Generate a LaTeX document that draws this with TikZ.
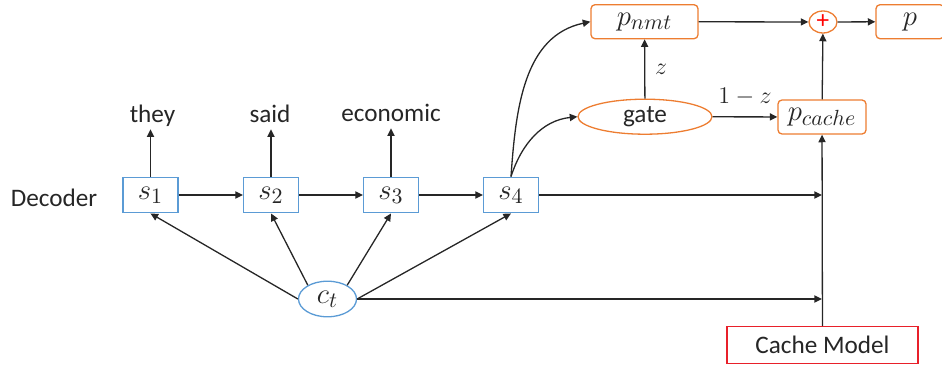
\documentclass[tikz,border=0pt]{standalone}
\usepackage[no-math]{fontspec}
\setmainfont{Carlito}
\usetikzlibrary{arrows.meta,shapes.geometric}
\definecolor{boxblue}{HTML}{5B9BD5}
\definecolor{boxorange}{HTML}{ED7D31}
\definecolor{boxred}{HTML}{E8202A}
\definecolor{linegray}{HTML}{262626}
\begin{document}
\begin{tikzpicture}[x=0.5pt,y=-0.5pt,
  font=\fontsize{12.6}{15}\selectfont, text=linegray,
  mth/.style={font=\fontsize{15}{18}\selectfont},
  arr/.style={draw=linegray, line width=0.65pt, -{Triangle[length=3.8pt,width=3.6pt]}},
  word/.style={inner sep=0pt, text depth=0.3em, anchor=base},
  state/.style={mth, draw=boxblue, line width=0.65pt, minimum width=27.5pt, minimum height=17.8pt, inner sep=0pt},
  prob/.style={mth, draw=boxorange, line width=0.65pt, rounded corners=2pt, minimum height=17pt, inner sep=0pt},
  oval/.style={ellipse, line width=0.65pt, inner sep=0pt}]
\useasboundingbox (0,0) rectangle (942,369);
\node[word] (dec) at (54,206) {Decoder};
\node[state] (s1) at (150.5,195) {$s_1$};
\node[state] (s2) at (271,195) {$s_2$};
\node[state] (s3) at (391,195) {$s_3$};
\node[state] (s4) at (511,195) {$s_4$};
\node[word] (they) at (152.5,123) {they};
\node[word] (said) at (270,123) {said};
\node[word] (econ) at (391,122) {economic};
\node[oval, mth, draw=boxblue, minimum width=29pt, minimum height=17.8pt] (ct) at (327.5,299) {$c_t$};
\node[oval, draw=boxorange, minimum width=67pt, minimum height=17.5pt] (gate) at (645,116.7) {gate};
\node[prob, minimum width=53.5pt] (pnmt) at (644.5,21.7) {$p_{nmt}$};
\node[prob, minimum width=44pt] (pcache) at (822,117) {$p_{cache}$};
\node[oval, draw=boxorange, minimum width=14pt, minimum height=11pt] (plus) at (823,22) {\textcolor{red}{+}};
\node[prob, minimum width=34pt] (p) at (910,21.7) {$p$};
\node[draw=boxred, line width=0.65pt, minimum width=95.5pt, minimum height=18.5pt, inner sep=0pt] (cache) at (822.5,345.3) {Cache Model};
\draw[arr] (s1.north) -- (s1.north |- they.south);
\draw[arr] (s2.north) -- (s2.north |- said.south);
\draw[arr] (s3.north) -- (s3.north |- econ.south);
\draw[arr] (s1) -- (s2);
\draw[arr] (s2) -- (s3);
\draw[arr] (s3) -- (s4);
\draw[arr] (ct.west) -- (s1.south);
\draw[arr] (ct.145) -- (s2.south);
\draw[arr] (ct.35) -- (s3.south);
\draw[arr] (ct.east) -- (s4.south);
\draw[arr] (s4) -- (s4 -| pcache);
\draw[arr] (ct) -- (ct -| pcache);
\draw[arr] (s4.north) to[out=86,in=192] (pnmt.west);
\draw[arr] (s4.north) to[out=72,in=186] (gate.west);
\draw[arr] (gate) -- (pnmt) node[midway, right=1.5pt, font=\fontsize{12}{14}\selectfont] {$z$};
\draw[arr] (gate) -- (pcache) node[midway, above=2pt, font=\fontsize{12}{14}\selectfont] {$1-z$};
\draw[arr] (cache) -- (pcache);
\draw[arr] (pcache) -- (plus);
\draw[arr] (pnmt) -- (plus);
\draw[arr] (plus) -- (p);
\end{tikzpicture}
\end{document}
